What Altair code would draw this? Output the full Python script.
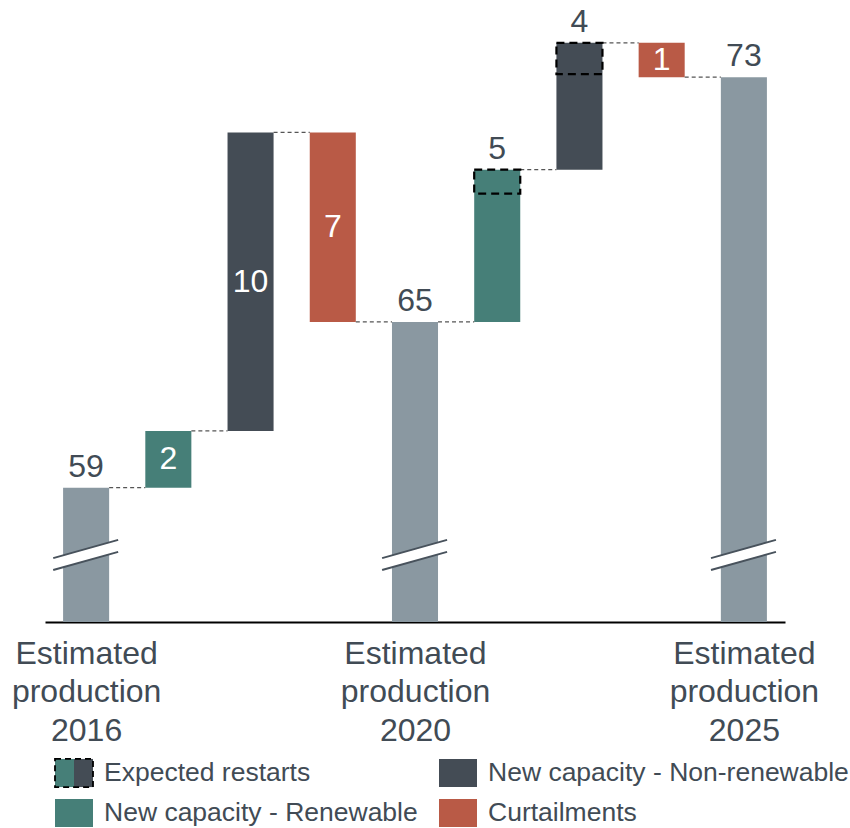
import altair as alt
import pandas as pd

# ---------------- data ----------------
categories = ["2016", "Renewable", "Non-renewable", "Curtailments", "2020",
              "Renewable", "Non-renewable", "Curtailments", "2025"]
kinds = ["total", "renew", "nonrenew", "curtail", "total",
         "renew", "nonrenew", "curtail", "total"]
# bar heights as measured (totals are absolute levels, steps are deltas)
values = [59.0, 1.9, 10.0, -6.35, 64.55, 5.1, 4.25, -1.15, 72.75]
# labels printed on the chart
value_labels = ["59", "2", "10", "7", "65", "5", "4", "1", "73"]
# part of the step that are expected restarts (dashed boxes)
restarts = [0, 0, 0, 0, 0, 0.8, 1.05, 0, 0]

total_labels = [["Estimated", "production", "2016"],
                ["Estimated", "production", "2020"],
                ["Estimated", "production", "2025"]]

legend_labels = ["Expected restarts", "New capacity - Non-renewable",
                 "New capacity - Renewable", "Curtailments"]
legend_kinds = ["restart", "nonrenew", "renew", "curtail"]
legend_col = [0, 1, 0, 1]
legend_row = [0, 0, 1, 1]

# ---------------- style ----------------
FONT = "Liberation Sans"
TXT = "#414b55"
kind_domain = ["total", "renew", "nonrenew", "curtail"]
kind_colors = ["#8a98a1", "#467f78", "#444c55", "#b95a46"]
Y_MIN, Y_MAX = 54.5, 75.0
HALF = 0.28

# ---------------- derived table ----------------
rows = []
run = 0.0
for i, (c, k, v, lab, r) in enumerate(zip(categories, kinds, values, value_labels, restarts)):
    if k == "total":
        start, end = Y_MIN, v
        run = v
    else:
        start, end = run, run + v
        run = end
    top = max(start, end)
    inside = (k != "total") and r == 0
    rows.append(dict(i=i, cat=c, kind=k, start=start, end=end, top=top,
                     mid=(start + end) / 2, label=lab, restart=r,
                     rs=end - r, x_lo=i - HALF, x_hi=i + HALF, inside=inside, level=run))
df = pd.DataFrame(rows)

conn = pd.DataFrame([dict(x0=rows[j]["i"] + HALF, x1=rows[j + 1]["i"] - HALF, level=rows[j]["level"])
                     for j in range(len(rows) - 1)])

tot_idx = [r["i"] for r in rows if r["kind"] == "total"]
breaks = []
for t in tot_idx:
    breaks.append(dict(xa=t - 0.40, xb=t + 0.39, ya=56.44, yb=57.05, w="white"))
for t in tot_idx:
    breaks.append(dict(xa=t - 0.40, xb=t + 0.39, ya=56.64, yb=57.25, w="line"))
    breaks.append(dict(xa=t - 0.40, xb=t + 0.39, ya=56.24, yb=56.85, w="line"))
brk = pd.DataFrame(breaks)

label_expr = ""
for t, lines in zip(tot_idx, total_labels):
    arr = "[" + ",".join("'" + s + "'" for s in lines) + "]"
    label_expr += f"datum.value == {t} ? {arr} : "
label_expr += "''"

xscale = alt.Scale(domain=[-0.5, len(categories) - 0.5], nice=False, zero=False)
yscale = alt.Scale(domain=[Y_MIN, Y_MAX], nice=False, zero=False)
xaxis = alt.Axis(values=tot_idx, labelExpr=label_expr, title=None, grid=False, ticks=False,
                 domainColor="black", domainWidth=2.2, labelFontSize=32, labelColor=TXT,
                 labelFont=FONT, labelLineHeight=38.5, labelPadding=16, labelOverlap=False,
                 labelFlush=False)
color = alt.Color("kind:N", scale=alt.Scale(domain=kind_domain + ["restart"],
                                            range=kind_colors + ["#000000"]), legend=None)

base = alt.Chart(df)
bars = base.mark_bar().encode(
    x=alt.X("x_lo:Q", scale=xscale, axis=xaxis), x2="x_hi:Q",
    y=alt.Y("start:Q", scale=yscale, axis=None), y2="end:Q",
    color=color)

dashed = base.transform_filter("datum.restart > 0").mark_rect(
    fillOpacity=0, stroke="black", strokeDash=[8, 5], strokeWidth=2.2).encode(
    x=alt.X("x_lo:Q", scale=xscale, axis=xaxis), x2="x_hi:Q",
    y=alt.Y("rs:Q", scale=yscale, axis=None), y2="end:Q")

connectors = alt.Chart(conn).mark_rule(color="#555555", strokeWidth=1.3, strokeDash=[4, 3]).encode(
    x=alt.X("x0:Q", scale=xscale, axis=xaxis), x2="x1:Q",
    y=alt.Y("level:Q", scale=yscale, axis=None))

brk_white = alt.Chart(brk).transform_filter("datum.w == 'white'").mark_rule(
    color="white", strokeWidth=11, strokeCap="butt").encode(
    x=alt.X("xa:Q", scale=xscale, axis=xaxis), x2="xb:Q",
    y=alt.Y("ya:Q", scale=yscale, axis=None), y2="yb:Q")
brk_line = alt.Chart(brk).transform_filter("datum.w == 'line'").mark_rule(
    color="#48525c", strokeWidth=2).encode(
    x=alt.X("xa:Q", scale=xscale, axis=xaxis), x2="xb:Q",
    y=alt.Y("ya:Q", scale=yscale, axis=None), y2="yb:Q")

txt_above = base.transform_filter("!datum.inside").mark_text(
    font=FONT, fontSize=32, color=TXT, baseline="alphabetic", dy=-11).encode(
    x=alt.X("i:Q", scale=xscale, axis=xaxis),
    y=alt.Y("top:Q", scale=yscale, axis=None), text="label:N")
txt_inside = base.transform_filter("datum.inside").mark_text(
    font=FONT, fontSize=32, color="white", baseline="middle").encode(
    x=alt.X("i:Q", scale=xscale, axis=xaxis),
    y=alt.Y("mid:Q", scale=yscale, axis=None), text="label:N")

main = alt.layer(bars, connectors, dashed, brk_white, brk_line, txt_above, txt_inside)

# ---------------- custom legend ----------------
ldf = pd.DataFrame(dict(label=legend_labels, kind=legend_kinds, col=legend_col, row=legend_row))
lx = alt.X("col:Q", scale=alt.Scale(domain=[0, 1], range=[29, 413]), axis=None)
ly = alt.Y("row:Q", scale=alt.Scale(domain=[0, 1], range=[763, 803]), axis=None)
FULL = "M-1,-0.74L1,-0.74L1,0.74L-1,0.74Z"
LEFT = "M-1,-0.74L0,-0.74L0,0.74L-1,0.74Z"
RIGHT = "M0,-0.74L1,-0.74L1,0.74L0,0.74Z"
lbase = alt.Chart(ldf)
licons = lbase.transform_filter("datum.kind != 'restart'").mark_point(
    shape=FULL, filled=True, size=1444, opacity=1).encode(x=lx, y=ly, color=color)
lres_l = lbase.transform_filter("datum.kind == 'restart'").mark_point(
    shape=LEFT, filled=True, size=1444, opacity=1, color=kind_colors[1]).encode(x=lx, y=ly)
lres_r = lbase.transform_filter("datum.kind == 'restart'").mark_point(
    shape=RIGHT, filled=True, size=1444, opacity=1, color=kind_colors[2]).encode(x=lx, y=ly)
lres_o = lbase.transform_filter("datum.kind == 'restart'").mark_point(
    shape=FULL, filled=False, size=1444, opacity=1, color="black", strokeWidth=1.8,
    strokeDash=[6, 4]).encode(x=lx, y=ly)
ltext = lbase.mark_text(font=FONT, fontSize=26.5, color=TXT, align="left", baseline="middle", dx=30).encode(
    x=lx, y=ly, text="label:N")
legend = alt.layer(licons, lres_l, lres_r, lres_o, ltext)

chart = alt.layer(main, legend).resolve_scale(x="independent", y="independent").properties(
    width=740, height=612,
    autosize=alt.AutoSizeParams(type="none"),
    padding={"left": 45, "top": 10, "right": 65, "bottom": 206},
    view=alt.ViewConfig(stroke="transparent", strokeWidth=0),
).configure_view(stroke="transparent", strokeWidth=0).configure(font=FONT)

chart.save("out.html", embed_options={"renderer": "svg", "actions": False})
